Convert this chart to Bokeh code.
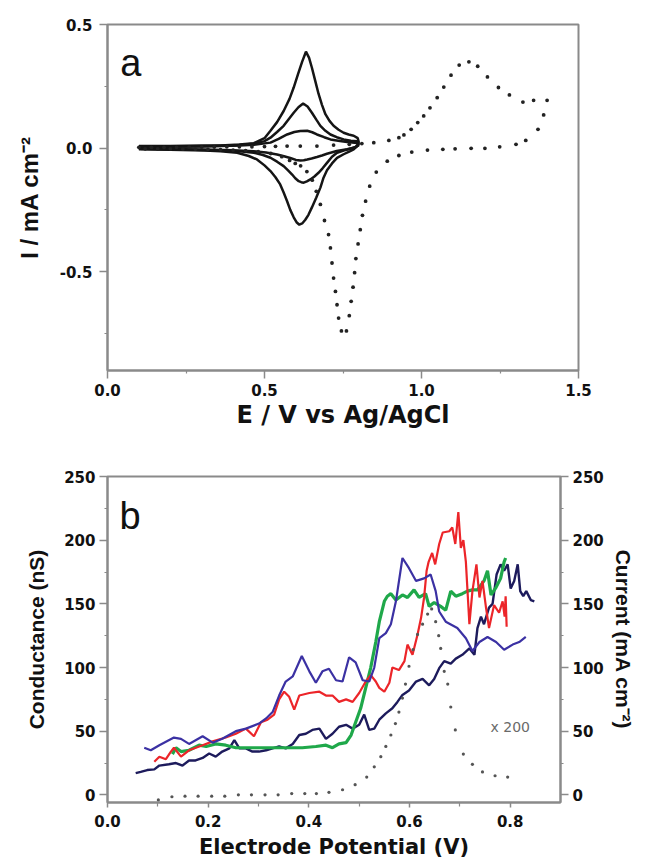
from bokeh.plotting import figure
from bokeh.models import Range1d, FixedTicker, PrintfTickFormatter, LinearAxis, Label
from bokeh.layouts import column
from bokeh.embed import file_html
from bokeh.resources import INLINE

# ---------------- Panel a data (cyclic voltammograms) ----------------
E1 = [0.10, 0.20, 0.30, 0.36, 0.42, 0.466, 0.50, 0.519, 0.54, 0.561, 0.58, 0.593, 0.607, 0.62, 0.632,
      0.642, 0.651, 0.662, 0.672, 0.683, 0.694, 0.707, 0.72, 0.736, 0.752, 0.768, 0.784, 0.797, 0.80,
      0.797, 0.784, 0.773, 0.752, 0.731, 0.715, 0.699, 0.688, 0.678, 0.665, 0.651, 0.64, 0.63, 0.62,
      0.611, 0.602, 0.593, 0.582, 0.572, 0.561, 0.55, 0.535, 0.519, 0.50, 0.476, 0.45, 0.413, 0.36,
      0.31, 0.20, 0.10]
I1 = [0.008, 0.008, 0.01, 0.01, 0.014, 0.02, 0.04, 0.07, 0.105, 0.15, 0.2, 0.245, 0.3, 0.35, 0.39,
      0.365, 0.325, 0.27, 0.22, 0.175, 0.137, 0.11, 0.09, 0.074, 0.062, 0.055, 0.05, 0.04, 0.025,
      0.01, -0.005, -0.012, -0.025, -0.04, -0.062, -0.09, -0.12, -0.16, -0.2, -0.24, -0.27, -0.29, -0.305,
      -0.31, -0.3, -0.28, -0.25, -0.215, -0.18, -0.147, -0.118, -0.093, -0.07, -0.046, -0.032, -0.019, -0.013,
      -0.01, -0.007, -0.005]

E2 = [0.10, 0.30, 0.40, 0.466, 0.50, 0.519, 0.54, 0.561, 0.577, 0.593, 0.608, 0.623, 0.637, 0.651,
      0.665, 0.678, 0.694, 0.71, 0.73, 0.752, 0.775, 0.795, 0.80, 0.79, 0.773, 0.752, 0.731, 0.715,
      0.699, 0.685, 0.672, 0.659, 0.646, 0.635, 0.625, 0.617, 0.609, 0.598, 0.588, 0.575, 0.561, 0.54,
      0.519, 0.495, 0.466, 0.42, 0.36, 0.25, 0.10]
I2 = [0.005, 0.007, 0.01, 0.017, 0.028, 0.042, 0.065, 0.09, 0.117, 0.143, 0.165, 0.18, 0.168, 0.143,
      0.115, 0.09, 0.07, 0.055, 0.044, 0.035, 0.03, 0.028, 0.018, 0.005, -0.003, -0.01, -0.019, -0.035,
      -0.06, -0.082, -0.1, -0.115, -0.127, -0.135, -0.14, -0.138, -0.134, -0.122, -0.107, -0.09, -0.073, -0.055,
      -0.039, -0.028, -0.019, -0.013, -0.01, -0.006, -0.003]

E3 = [0.10, 0.30, 0.42, 0.466, 0.519, 0.545, 0.572, 0.595, 0.614, 0.636, 0.652, 0.667, 0.69, 0.71,
      0.74, 0.763, 0.795, 0.80, 0.79, 0.763, 0.73, 0.699, 0.683, 0.667, 0.65, 0.636, 0.625, 0.614, 0.6,
      0.582, 0.562, 0.54, 0.505, 0.466, 0.40, 0.30, 0.10]
I3 = [0.004, 0.006, 0.01, 0.013, 0.022, 0.037, 0.055, 0.065, 0.069, 0.07, 0.064, 0.055, 0.044, 0.035,
      0.029, 0.025, 0.02, 0.012, 0.003, -0.005, -0.012, -0.023, -0.03, -0.036, -0.042, -0.046, -0.049, -0.05,
      -0.048, -0.04, -0.033, -0.026, -0.018, -0.013, -0.009, -0.006, -0.003]

# dotted (wide-window) voltammogram
E_dot = [0.10, 0.14, 0.18, 0.22, 0.26, 0.30, 0.34, 0.38, 0.42, 0.46, 0.50, 0.535, 0.572, 0.614, 0.667,
         0.72, 0.77, 0.81, 0.848, 0.896, 0.928, 0.944, 0.967, 0.988, 1.007, 1.027, 1.05, 1.071, 1.094,
         1.12, 1.151, 1.179, 1.21, 1.245, 1.28, 1.323, 1.357, 1.40,
         1.389, 1.371, 1.332, 1.301, 1.249, 1.202, 1.158, 1.107, 1.068, 1.019, 0.969, 0.928, 0.891,
         0.856, 0.835, 0.822, 0.812, 0.805, 0.798, 0.791, 0.787, 0.782, 0.776, 0.77, 0.761, 0.745,
         0.736, 0.731, 0.726, 0.72, 0.715, 0.71, 0.704, 0.691, 0.678, 0.665, 0.652, 0.635, 0.615, 0.598,
         0.58, 0.555, 0.52, 0.48, 0.44, 0.40, 0.36, 0.32, 0.28, 0.24, 0.20, 0.16, 0.12]
I_dot = [0.003, 0.003, 0.003, 0.003, 0.004, 0.004, 0.004, 0.005, 0.005, 0.005, 0.006, 0.007, 0.008, 0.008, 0.008,
         0.012, 0.015, 0.018, 0.022, 0.031, 0.042, 0.053, 0.076, 0.103, 0.13, 0.163, 0.204, 0.247, 0.295,
         0.336, 0.349, 0.331, 0.288, 0.245, 0.215, 0.186, 0.193, 0.193,
         0.134, 0.076, 0.031, 0.015, 0.005, -0.001, -0.001, -0.003, -0.005, -0.008, -0.016, -0.03, -0.053,
         -0.097, -0.154, -0.215, -0.272, -0.33, -0.388, -0.447, -0.504, -0.563, -0.62, -0.678, -0.74, -0.74,
         -0.688, -0.634, -0.58, -0.526, -0.465, -0.404, -0.35, -0.293, -0.228, -0.175, -0.13, -0.095, -0.072, -0.062,
         -0.05, -0.035, -0.022, -0.014, -0.01, -0.008, -0.006, -0.005, -0.004, -0.004, -0.003, -0.003, -0.003]

a_xticks = [0.0, 0.5, 1.0, 1.5]
a_xminor = [0.25, 0.75, 1.25]
a_yticks = [-0.5, 0.0, 0.5]
a_yminor = [-0.75, -0.25, 0.25]

# ---------------- Panel b data (conductance vs potential) ----------------
V_blue = [0.073, 0.086, 0.103, 0.132, 0.146, 0.162, 0.189, 0.209, 0.228, 0.255, 0.275, 0.301, 0.315,
          0.328, 0.341, 0.354, 0.368, 0.386, 0.401, 0.414, 0.427, 0.44, 0.454, 0.467, 0.48, 0.493, 0.507,
          0.52, 0.53, 0.54, 0.553, 0.563, 0.573, 0.586, 0.599, 0.613, 0.629, 0.642, 0.652, 0.659, 0.672,
          0.695, 0.712, 0.725, 0.739, 0.755, 0.772, 0.788, 0.805, 0.818, 0.831]
G_blue = [37, 35, 39, 45, 44, 40, 46, 41, 44, 50, 52, 56, 60, 65, 78, 89, 93, 109, 97, 88, 97, 99, 90,
          89, 108, 104, 90, 89, 100, 123, 127, 134, 152, 186, 178, 168, 170, 173, 160, 144, 136, 131,
          123, 113, 120, 124, 120, 114, 118, 120, 124]

V_red = [0.093, 0.103, 0.116, 0.126, 0.132, 0.146, 0.162, 0.189, 0.209, 0.235, 0.255, 0.275, 0.291,
         0.305, 0.318, 0.331, 0.341, 0.351, 0.361, 0.371, 0.381, 0.401, 0.421, 0.434, 0.447, 0.46, 0.474,
         0.487, 0.5, 0.513, 0.523, 0.533, 0.54, 0.55, 0.56, 0.566, 0.579, 0.59, 0.596, 0.606, 0.616, 0.623,
         0.629, 0.634, 0.638, 0.645, 0.651, 0.659, 0.666, 0.679, 0.685, 0.691, 0.697, 0.702, 0.707, 0.712,
         0.719, 0.725, 0.733, 0.739, 0.745, 0.752, 0.758, 0.768, 0.778, 0.785, 0.789, 0.791, 0.793]
G_red = [26, 30, 28, 34, 37, 30, 35, 39, 42, 45, 48, 52, 46, 57, 59, 63, 75, 81, 77, 67, 78, 80, 81, 78,
         78, 73, 75, 73, 80, 89, 94, 89, 84, 81, 88, 100, 98, 105, 118, 110, 126, 139, 155, 176, 183, 190,
         181, 197, 206, 207, 210, 197, 222, 194, 200, 183, 134, 160, 181, 155, 168, 147, 131, 149, 143,
         152, 140, 156, 132]

V_green = [0.129, 0.136, 0.146, 0.162, 0.182, 0.196, 0.215, 0.235, 0.255, 0.281, 0.308, 0.334, 0.361,
           0.387, 0.414, 0.434, 0.447, 0.46, 0.474, 0.484, 0.493, 0.503, 0.513, 0.523, 0.533, 0.54, 0.55,
           0.556, 0.563, 0.573, 0.586, 0.596, 0.609, 0.619, 0.632, 0.639, 0.649, 0.662, 0.672, 0.682,
           0.692, 0.705, 0.715, 0.725, 0.735, 0.748, 0.755, 0.762, 0.772, 0.781, 0.788, 0.791]
G_green = [32, 37, 34, 35, 39, 38, 40, 39, 37, 37, 37, 37, 37, 37, 38, 39, 37, 40, 41, 47, 57, 68, 84,
           100, 120, 136, 152, 156, 158, 153, 157, 155, 161, 155, 158, 148, 151, 148, 145, 160, 156, 158,
           160, 161, 161, 168, 176, 157, 163, 170, 183, 186]

V_navy = [0.056, 0.066, 0.079, 0.093, 0.103, 0.122, 0.136, 0.149, 0.162, 0.175, 0.189, 0.202, 0.215,
          0.228, 0.242, 0.252, 0.262, 0.275, 0.288, 0.301, 0.315, 0.328, 0.341, 0.354, 0.368, 0.381,
          0.394, 0.407, 0.421, 0.434, 0.447, 0.46, 0.474, 0.487, 0.5, 0.51, 0.52, 0.53, 0.54, 0.553, 0.566,
          0.576, 0.586, 0.599, 0.613, 0.626, 0.639, 0.649, 0.659, 0.669, 0.682, 0.692, 0.705, 0.719,
          0.729, 0.735, 0.742, 0.748, 0.758, 0.765, 0.773, 0.781, 0.788, 0.795, 0.801, 0.808, 0.815,
          0.82, 0.826, 0.832, 0.841, 0.848]
G_navy = [17, 18, 19.5, 20, 23, 24, 25, 23, 27, 27, 29, 32.5, 30, 34, 36.5, 43, 36.5, 36.5, 34, 34, 35,
          36.5, 38, 36.5, 40, 47, 48, 51, 52, 44, 48, 53.5, 55, 52, 55, 63, 51, 52, 59, 64, 68, 73, 78.5,
          82, 89, 91, 86, 91, 99.5, 105, 103, 107, 110, 115, 110, 131, 140, 134, 147, 150, 173, 181, 176,
          181, 162, 168, 181, 160, 156, 160, 153, 152]

V_cur = [0.101, 0.128, 0.154, 0.18, 0.207, 0.233, 0.26, 0.286, 0.313, 0.339, 0.366, 0.392, 0.415, 0.44,
         0.467, 0.492, 0.515, 0.53, 0.543, 0.553, 0.563, 0.572, 0.579, 0.586, 0.592, 0.599, 0.607, 0.616,
         0.626, 0.636, 0.644, 0.652, 0.658, 0.662, 0.669, 0.676, 0.682, 0.691, 0.707, 0.725, 0.745, 0.77,
         0.795]
C_cur = [-4, -1.5, -1, -1, -1, -1, 0, 0, 0, 0, 1, 1, 1, 2, 4, 8, 14, 22, 30, 38, 47, 56, 65, 76, 87, 101,
         114, 126, 134, 142, 146, 136, 125, 115, 97, 87, 69, 51, 32, 24, 18, 15, 14]

b_xticks = [0.0, 0.2, 0.4, 0.6, 0.8]
b_xminor = [0.1, 0.3, 0.5, 0.7]
b_yticks = [0, 50, 100, 150, 200, 250]
b_yminor = [25, 75, 125, 175, 225]

GRAY = "#8a8a8a"
TICK_FONT = "DejaVu Sans"
H_TITLE_FONT = "DejaVu Sans"
V_TITLE_FONT = "Liberation Sans"


def style_axis(ax, ticks, minor, fmt, tick_out, minor_out, standoff, title_font, title_size, title_standoff):
    ax.ticker = FixedTicker(ticks=ticks, minor_ticks=minor)
    ax.formatter = PrintfTickFormatter(format=fmt)
    ax.axis_line_color = GRAY
    ax.axis_line_width = 2
    ax.major_tick_line_color = GRAY
    ax.major_tick_line_width = 1.5
    ax.minor_tick_line_color = GRAY
    ax.minor_tick_line_width = 1.2
    ax.major_tick_in = 0
    ax.major_tick_out = tick_out
    ax.minor_tick_in = 0
    ax.minor_tick_out = minor_out
    ax.major_label_text_font = TICK_FONT
    ax.major_label_text_font_style = "bold"
    ax.major_label_text_font_size = "15px"
    ax.major_label_text_color = "#111111"
    ax.major_label_standoff = standoff
    ax.axis_label_text_font = title_font
    ax.axis_label_text_font_style = "bold"
    ax.axis_label_text_font_size = title_size
    ax.axis_label_text_color = "#111111"
    ax.axis_label_standoff = title_standoff


# ---------------- Figure a ----------------
pa = figure(frame_width=471, frame_height=346, x_range=Range1d(0, 1.5), y_range=Range1d(-0.9, 0.5),
            output_backend="svg", toolbar_location=None,
            min_border_left=99, min_border_right=63, min_border_top=24, min_border_bottom=62)
pa.xgrid.visible = False
pa.ygrid.visible = False
pa.outline_line_color = GRAY
pa.outline_line_width = 2
style_axis(pa.xaxis[0], a_xticks, a_xminor, "%.1f", 8, 3, 5, H_TITLE_FONT, "24px", 2)
style_axis(pa.yaxis[0], a_yticks, a_yminor, "%.1f", 8, 3, 7, V_TITLE_FONT, "24px", 14)
pa.xaxis[0].axis_label = "E / V vs Ag/AgCl"
pa.yaxis[0].axis_label = "I / mA cm\u207b\u00b2"

for ex, iy in ((E1, I1), (E2, I2), (E3, I3)):
    pa.line(ex, iy, line_color="#151515", line_width=2.5)
pa.scatter(E_dot, I_dot, size=3.8, fill_color="#222222", line_color=None)

pa.add_layout(Label(x=0.041, y=0.345, text="a", text_font="Liberation Sans",
                    text_font_size="38px", text_color="#111111", text_baseline="alphabetic"))

# ---------------- Figure b ----------------
pb = figure(frame_width=453, frame_height=326, x_range=Range1d(0, 0.9), y_range=Range1d(-6, 250),
            output_backend="svg", toolbar_location=None,
            min_border_left=107, min_border_right=73, min_border_top=44, min_border_bottom=59)
pb.xgrid.visible = False
pb.ygrid.visible = False
pb.outline_line_color = GRAY
pb.outline_line_width = 2
pb.extra_y_ranges = {"cur": Range1d(-6, 250)}
style_axis(pb.xaxis[0], b_xticks, b_xminor, "%.1f", 5, 4, 7, H_TITLE_FONT, "21px", 5)
style_axis(pb.yaxis[0], b_yticks, b_yminor, "%d", 8, 3, 4, V_TITLE_FONT, "21px", 13)
pb.xaxis[0].axis_label = "Electrode Potential (V)"
pb.yaxis[0].axis_label = "Conductance (nS)"

rax = LinearAxis(y_range_name="cur")
style_axis(rax, b_yticks, b_yminor, "%d", 8, 3, 4, V_TITLE_FONT, "21px", 5)
rax.axis_label = "Current (mA cm\u207b\u00b2)"
pb.add_layout(rax, "right")

pb.line(V_navy, G_navy, line_color="#1d1b5c", line_width=2.4)
pb.line(V_green, G_green, line_color="#1fa84a", line_width=3.2)
pb.line(V_red, G_red, line_color="#ec2529", line_width=2.2)
pb.line(V_blue, G_blue, line_color="#3b31a3", line_width=2.2)
pb.scatter(V_cur, C_cur, y_range_name="cur", size=3.2, fill_color="#555555", line_color=None)

pb.add_layout(Label(x=0.024, y=219, text="b", text_font="Liberation Sans",
                    text_font_size="38px", text_color="#111111", text_baseline="alphabetic"))
pb.add_layout(Label(x=0.761, y=53.5, text="x 200", text_font="DejaVu Sans",
                    text_font_size="14px", text_color="#6a6a6a", text_baseline="middle"))

layout = column(pa, pb)
open("out.html", "w").write(file_html(layout, INLINE))
